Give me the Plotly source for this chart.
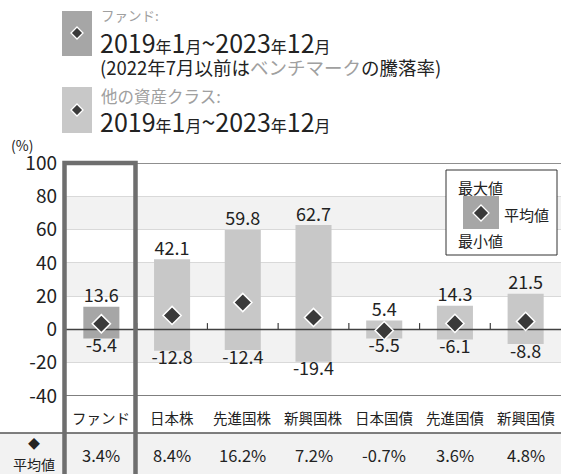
import plotly.graph_objects as go

categories = ["ファンド", "日本株", "先進国株", "新興国株", "日本国債", "先進国債", "新興国債"]
max_vals = [13.6, 42.1, 59.8, 62.7, 5.4, 14.3, 21.5]
min_vals = [-5.4, -12.8, -12.4, -19.4, -5.5, -6.1, -8.8]
avg_vals = [3.4, 8.4, 16.2, 7.2, -0.7, 3.6, 4.8]
y_ticks = [100, 80, 60, 40, 20, 0, -20, -40]

FONT = "Noto Sans CJK JP"
TXT = "#222222"
GRAY_TXT = "#a0a0a0"
DIAMOND = "#3a3a3a"

W, H = 561, 474
L, R, T, B = 66, 0, 163, 78
PW, PH = W - L - R, H - T - B


def px(x):
    return (x - L) / PW


def py(y):
    return (H - B - y) / PH


xs = list(range(len(categories)))
bar_colors = ["#a6a6a6"] + ["#c8c8c8"] * (len(categories) - 1)

fig = go.Figure()

fig.add_trace(go.Bar(
    x=xs, y=[mx - mn for mx, mn in zip(max_vals, min_vals)], base=min_vals,
    width=0.51, marker=dict(color=bar_colors, line=dict(width=0)),
    hoverinfo="skip", showlegend=False,
))

# zero line above bars
fig.add_trace(go.Scatter(
    x=[-0.5, len(categories) - 0.5], y=[0, 0], mode="lines",
    line=dict(color="#404040", width=1.5), hoverinfo="skip", showlegend=False,
))

fig.add_trace(go.Scatter(
    x=xs, y=avg_vals, mode="markers",
    marker=dict(symbol="diamond", size=14, color=DIAMOND, line=dict(color="white", width=1.5)),
    hoverinfo="skip", showlegend=False,
))

fig.add_trace(go.Scatter(
    x=xs, y=max_vals, mode="text", text=[f"{v:.1f}" for v in max_vals],
    textposition="top center", textfont=dict(family=FONT, size=18, color=TXT),
    hoverinfo="skip", showlegend=False,
))
fig.add_trace(go.Scatter(
    x=xs, y=min_vals, mode="text", text=[f"{v:.1f}" for v in min_vals],
    textposition="bottom center", textfont=dict(family=FONT, size=18, color=TXT),
    hoverinfo="skip", showlegend=False,
))

shapes = []
# alternating bands
for lo, hi in [(60, 80), (20, 40), (-20, 0)]:
    shapes.append(dict(type="rect", xref="paper", yref="y", x0=0, x1=1, y0=lo, y1=hi,
                       fillcolor="#f2f2f2", line=dict(width=0), layer="below"))
# small ticks on zero line between categories
for i in range(1, len(categories)):
    shapes.append(dict(type="line", xref="x", yref="y", x0=i - 0.5, x1=i - 0.5, y0=0, y1=3.8,
                       line=dict(color="#404040", width=1.2)))
# top and bottom lines
shapes.append(dict(type="line", xref="paper", yref="y", x0=0, x1=1, y0=100, y1=100,
                   line=dict(color="#6a6a6a", width=1.6)))
shapes.append(dict(type="line", xref="paper", yref="y", x0=0, x1=1, y0=-40, y1=-40,
                   line=dict(color="#555555", width=1.4)))
# average row
shapes.append(dict(type="rect", xref="paper", yref="paper", x0=px(0), x1=1, y0=py(433), y1=py(H + 2),
                   fillcolor="#f2f2f2", line=dict(width=0), layer="below"))
shapes.append(dict(type="line", xref="paper", yref="paper", x0=px(0), x1=1, y0=py(433), y1=py(433),
                   line=dict(color="#555555", width=1.4)))
# fund highlight frame
shapes.append(dict(type="rect", xref="paper", yref="paper", x0=px(64.5), x1=px(135.5), y0=py(H + 5), y1=py(163),
                   line=dict(color="#6e6e6e", width=4.5)))
# in-plot legend
shapes.append(dict(type="rect", xref="paper", yref="paper", x0=px(446), x1=px(557), y0=py(255), y1=py(170),
                   fillcolor="white", line=dict(color="#333333", width=1)))
shapes.append(dict(type="rect", xref="paper", yref="paper", x0=px(463), x1=px(499), y0=py(229), y1=py(196),
                   fillcolor="#a6a6a6", line=dict(width=0)))
# top legend boxes
shapes.append(dict(type="rect", xref="paper", yref="paper", x0=px(62), x1=px(92), y0=py(56), y1=py(11),
                   fillcolor="#a6a6a6", line=dict(width=0)))
shapes.append(dict(type="rect", xref="paper", yref="paper", x0=px(62), x1=px(92), y0=py(133), y1=py(87),
                   fillcolor="#c8c8c8", line=dict(width=0)))


def diamond_path(cx, cy, r):
    return (f"M {px(cx)},{py(cy - r)} L {px(cx + r)},{py(cy)} "
            f"L {px(cx)},{py(cy + r)} L {px(cx - r)},{py(cy)} Z")


for cx, cy, r in [(77, 33, 6), (77, 110, 6), (481, 213, 8)]:
    shapes.append(dict(type="path", xref="paper", yref="paper", path=diamond_path(cx, cy, r),
                       fillcolor=DIAMOND, line=dict(color="white", width=1.3)))

annotations = []


def ann(text, x, y, size, color=TXT, xanchor="left"):
    annotations.append(dict(text=text, x=px(x), y=py(y), xref="paper", yref="paper",
                            xanchor=xanchor, yanchor="middle", showarrow=False,
                            font=dict(family=FONT, size=size, color=color)))


small = '<span style="font-size:16px">'
date_txt = f"2019{small}年</span>1{small}月</span>~2023{small}年</span>12{small}月</span>"

ann("ファンド:", 99, 15, 13.5, GRAY_TXT)
ann(date_txt, 98, 42, 25)
ann(f'(2022年7月以前は<span style="color:{GRAY_TXT}">ベンチマーク</span>の騰落率)', 98, 67, 18.5)
ann("他の資産クラス:", 99, 96, 16.5, GRAY_TXT)
ann(date_txt, 98, 121, 25)
ann("(%)", 22, 145, 14, xanchor="center")

ann("最大値", 456, 187, 15)
ann("平均値", 502, 214, 15)
ann("最小値", 456, 240, 15)

for i, c in enumerate(categories):
    annotations.append(dict(text=c, x=i, y=py(417), xref="x", yref="paper", showarrow=False,
                            xanchor="center", yanchor="middle",
                            font=dict(family=FONT, size=14.5, color=TXT)))
    annotations.append(dict(text=f"{avg_vals[i]:.1f}%", x=i, y=py(455), xref="x", yref="paper",
                            showarrow=False, xanchor="center", yanchor="middle",
                            font=dict(family=FONT, size=16.5, color=TXT)))

ann("◆", 34, 443, 12, xanchor="center")
ann("平均値", 34, 464, 14, xanchor="center")

fig.update_layout(
    width=W, height=H, autosize=False,
    margin=dict(l=L, r=R, t=T, b=B),
    paper_bgcolor="white", plot_bgcolor="white",
    xaxis=dict(range=[-0.5, len(categories) - 0.5], showticklabels=False, showgrid=False,
               zeroline=False, fixedrange=True),
    yaxis=dict(range=[-40, 100], tickvals=y_ticks, ticktext=[str(v) for v in y_ticks],
               showgrid=True, gridcolor="#d9d9d9", gridwidth=1, zeroline=False,
               ticks="", ticklabelstandoff=8,
               tickfont=dict(family=FONT, size=19, color=TXT), fixedrange=True),
    shapes=shapes, annotations=annotations,
)

fig.write_html("out.html", config={"displayModeBar": False},
               post_script="document.body.style.margin='0';document.body.style.overflow='hidden';")
